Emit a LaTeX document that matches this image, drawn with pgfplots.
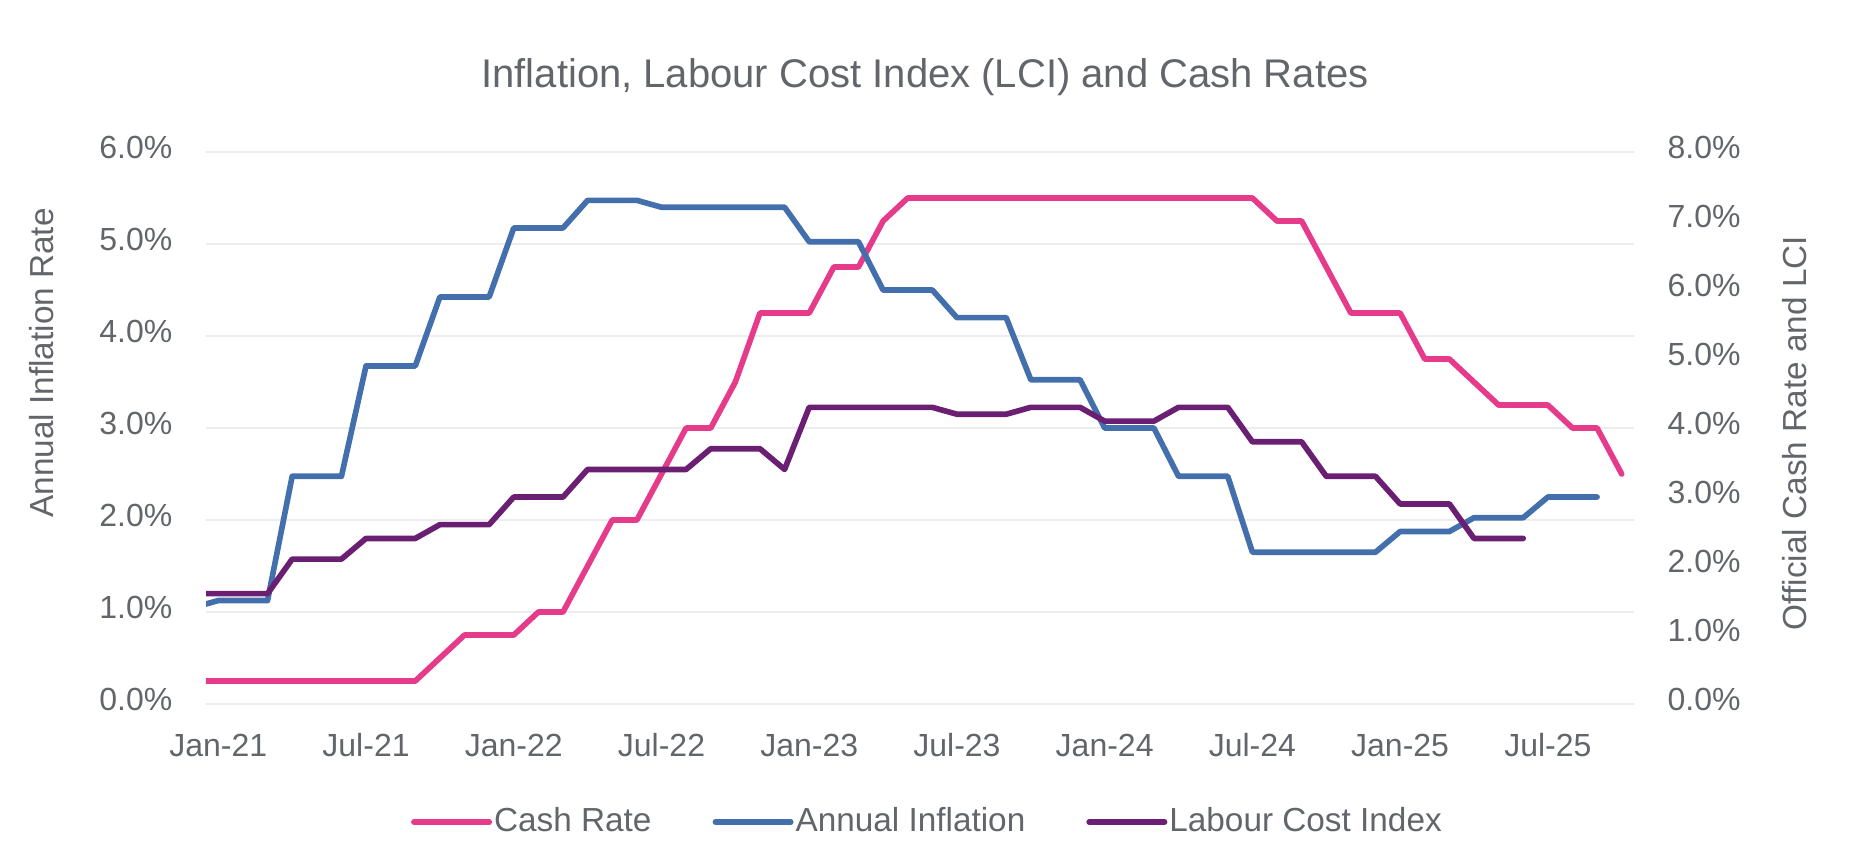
\documentclass[border=0pt]{standalone}
\usepackage{fontspec}
\setmainfont{Liberation Sans}
\usepackage{pgfplots}
\pgfplotsset{compat=1.18}
\usepackage{pgfplotstable}
\definecolor{cashpink}{HTML}{E63A8A}
\definecolor{inflblue}{HTML}{4370AC}
\definecolor{lcipurple}{HTML}{6B1F73}
\definecolor{txtgray}{HTML}{62666A}
\definecolor{gridgray}{HTML}{EDEDED}

% month index: 0 = Jan-21
\pgfplotstableread{
m v
-1 0.25
0 0.25
1 0.25
2 0.25
3 0.25
4 0.25
5 0.25
6 0.25
7 0.25
8 0.25
9 0.5
10 0.75
11 0.75
12 0.75
13 1.0
14 1.0
15 1.5
16 2.0
17 2.0
18 2.5
19 3.0
20 3.0
21 3.5
22 4.25
23 4.25
24 4.25
25 4.75
26 4.75
27 5.25
28 5.5
29 5.5
30 5.5
31 5.5
32 5.5
33 5.5
34 5.5
35 5.5
36 5.5
37 5.5
38 5.5
39 5.5
40 5.5
41 5.5
42 5.5
43 5.25
44 5.25
45 4.75
46 4.25
47 4.25
48 4.25
49 3.75
50 3.75
51 3.5
52 3.25
53 3.25
54 3.25
55 3.0
56 3.0
57 2.5
}\cashrate

\pgfplotstableread{
m v
-1 1.4
0 1.5
1 1.5
2 1.5
3 3.3
4 3.3
5 3.3
6 4.9
7 4.9
8 4.9
9 5.9
10 5.9
11 5.9
12 6.9
13 6.9
14 6.9
15 7.3
16 7.3
17 7.3
18 7.2
19 7.2
20 7.2
21 7.2
22 7.2
23 7.2
24 6.7
25 6.7
26 6.7
27 6.0
28 6.0
29 6.0
30 5.6
31 5.6
32 5.6
33 4.7
34 4.7
35 4.7
36 4.0
37 4.0
38 4.0
39 3.3
40 3.3
41 3.3
42 2.2
43 2.2
44 2.2
45 2.2
46 2.2
47 2.2
48 2.5
49 2.5
50 2.5
51 2.7
52 2.7
53 2.7
54 3.0
55 3.0
56 3.0
}\inflation

\pgfplotstableread{
m v
-1 1.6
0 1.6
1 1.6
2 1.6
3 2.1
4 2.1
5 2.1
6 2.4
7 2.4
8 2.4
9 2.6
10 2.6
11 2.6
12 3.0
13 3.0
14 3.0
15 3.4
16 3.4
17 3.4
18 3.4
19 3.4
20 3.7
21 3.7
22 3.7
23 3.4
24 4.3
25 4.3
26 4.3
27 4.3
28 4.3
29 4.3
30 4.2
31 4.2
32 4.2
33 4.3
34 4.3
35 4.3
36 4.1
37 4.1
38 4.1
39 4.3
40 4.3
41 4.3
42 3.8
43 3.8
44 3.8
45 3.3
46 3.3
47 3.3
48 2.9
49 2.9
50 2.9
51 2.4
52 2.4
53 2.4
}\lci

\begin{document}
\begin{tikzpicture}
\path[use as bounding box] (-61.8pt,-43.8pt) rectangle (493.8pt,211.2pt);
\pgfplotsset{
  every axis/.append style={
    scale only axis, width=428.4pt, height=165.6pt,
    xmin=-0.5, xmax=57.5,
    axis line style={draw=none},
    major tick length=0pt, tick style={draw=none},
    ticklabel style={font=\fontsize{9.6}{11}\selectfont, text=txtgray},
    label style={font=\fontsize{10}{12}\selectfont, text=txtgray},
  },
  serie/.style={line width=1.7pt, line cap=round, line join=round, no markers},
}
\begin{axis}[
  ymin=0, ymax=6,
  ytick={0,1,2,3,4,5,6},
  yticklabels={0.0\%,1.0\%,2.0\%,3.0\%,4.0\%,5.0\%,6.0\%},
  yticklabel style={anchor=east, inner sep=0pt, xshift=-9.9pt, yshift=1.5pt},
  ymajorgrids, grid style={gridgray, line width=0.5pt},
  xtick={0,6,12,18,24,30,36,42,48,54},
  xticklabels={Jan-21,Jul-21,Jan-22,Jul-22,Jan-23,Jul-23,Jan-24,Jul-24,Jan-25,Jul-25},
  xticklabel style={anchor=base, inner sep=0pt, yshift=-15.6pt},
  ylabel={Annual Inflation Rate},
  ylabel style={at={(axis description cs:-0.11485,0.618)}, anchor=center},
  title={Inflation, Labour Cost Index (LCI) and Cash Rates},
  title style={at={(axis description cs:0.5035,1)}, anchor=base, yshift=13.5pt,
    font=\fontsize{12}{14}\selectfont, text=txtgray},
]
\addplot[serie, cashpink] table[x=m, y=v] {\cashrate};
\end{axis}
\begin{axis}[
  axis y line*=right, axis x line=none,
  ymin=0, ymax=8,
  ytick={0,1,2,3,4,5,6,7,8},
  yticklabels={0.0\%,1.0\%,2.0\%,3.0\%,4.0\%,5.0\%,6.0\%,7.0\%,8.0\%},
  yticklabel style={anchor=west, inner sep=0pt, xshift=9.9pt, yshift=1.5pt},
  ylabel={Official Cash Rate and LCI},
  ylabel style={at={(axis description cs:1.11275,0.491)}, anchor=center},
  legend columns=-1,
  legend image code/.code={\draw[#1, line cap=round] (0.8pt,0pt) -- (23.4pt,0pt);},
  legend style={draw=none, fill=none, inner sep=0pt, outer sep=0pt,
    at={(axis description cs:0.5045,0)}, yshift=-35.4pt, anchor=center,
    font=\fontsize{10}{12}\selectfont, text=txtgray,
    nodes={inner sep=0pt},
    /tikz/every odd column/.style={column sep=0.6pt},
    /tikz/every even column/.style={column sep=18.3pt}},
]
\addlegendimage{serie, cashpink}
\addlegendentry{Cash Rate}
\addplot[serie, inflblue] table[x=m, y=v] {\inflation};
\addlegendentry{Annual Inflation}
\addplot[serie, lcipurple] table[x=m, y=v] {\lci};
\addlegendentry{Labour Cost Index}
\end{axis}
\end{tikzpicture}
\end{document}
